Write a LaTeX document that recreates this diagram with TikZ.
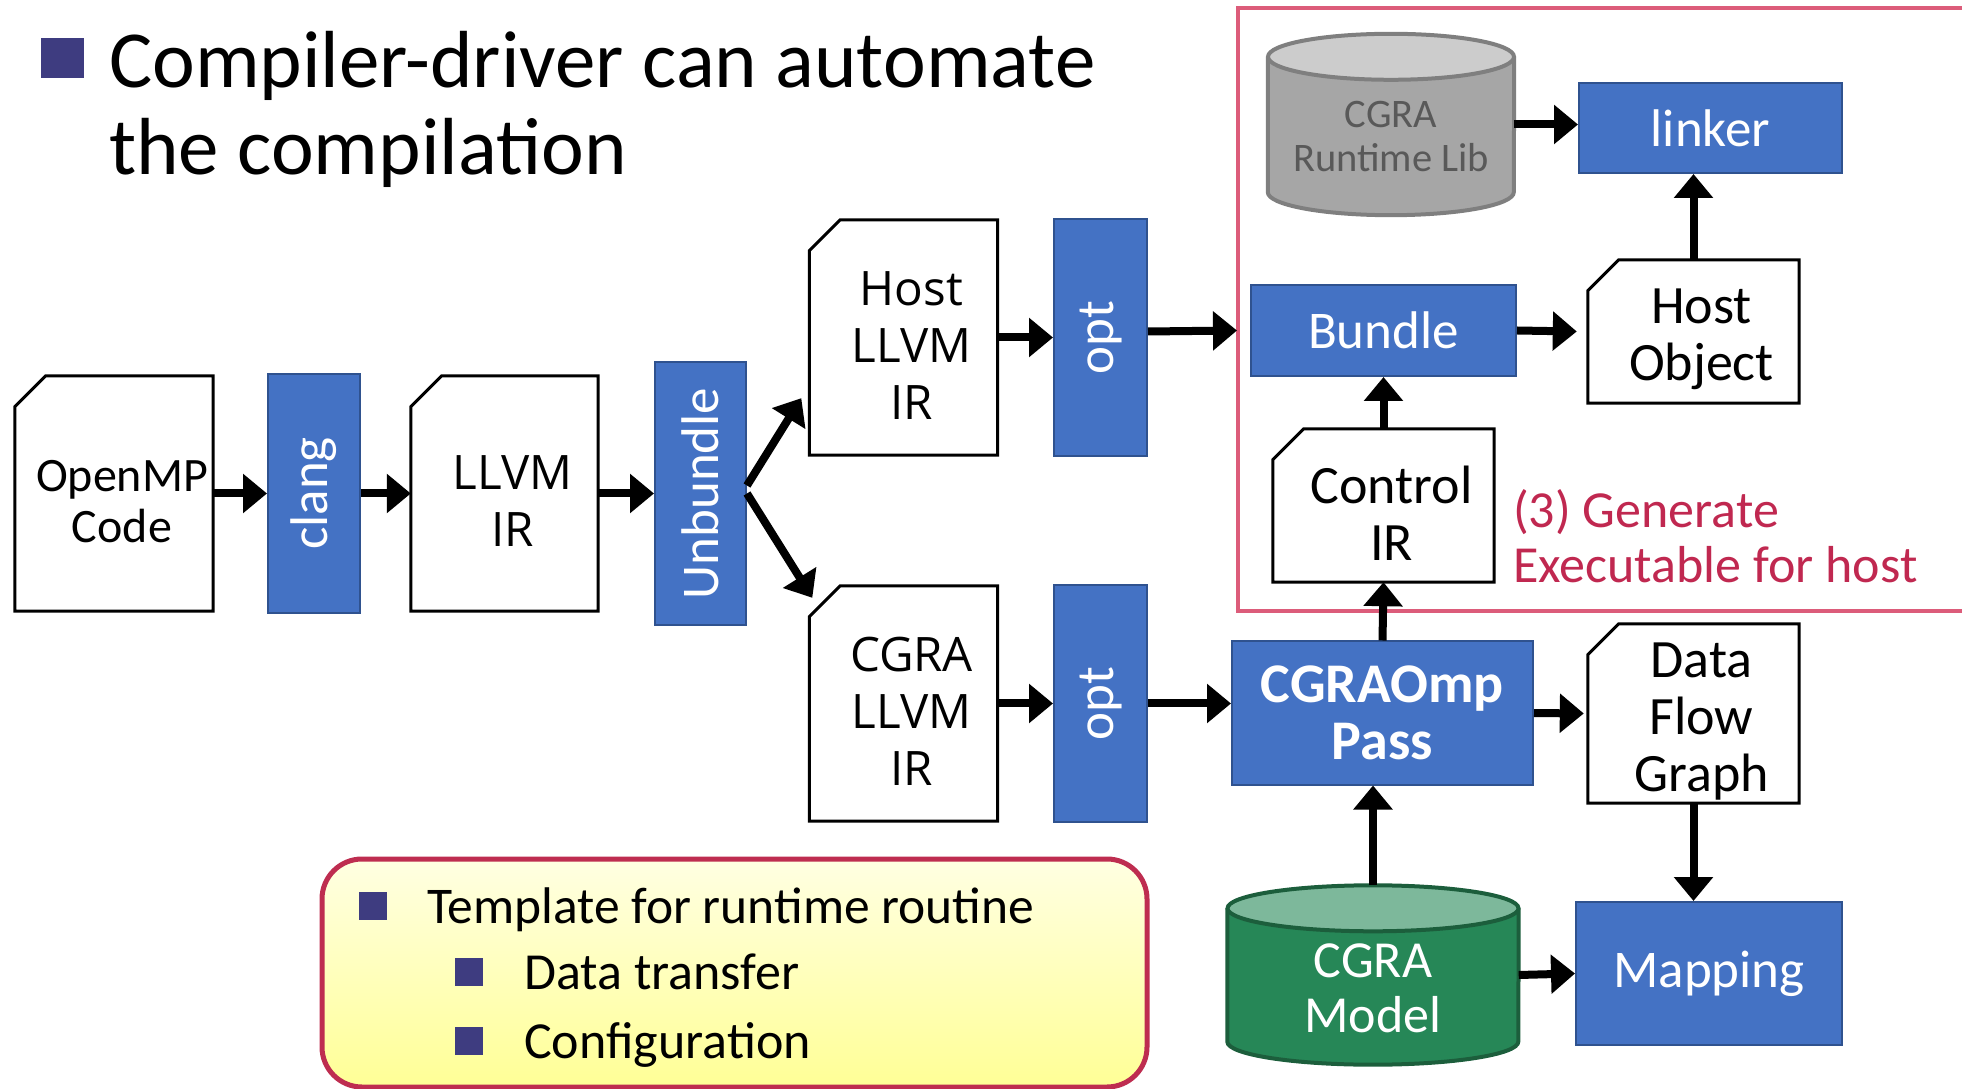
\documentclass[tikz,border=0pt]{standalone}
\usepackage{fontspec}
\setmainfont{Carlito}
\newfontfamily\widefont{Open Sans}
\usetikzlibrary{arrows.meta}
\definecolor{passblue}{RGB}{68,114,196}
\definecolor{passedge}{RGB}{47,82,143}
\definecolor{framepink}{RGB}{220,92,122}
\definecolor{notecrimson}{RGB}{192,40,80}
\definecolor{bulletpurple}{RGB}{62,60,128}
\definecolor{libbody}{RGB}{166,166,166}
\definecolor{libtop}{RGB}{204,204,204}
\definecolor{libedge}{RGB}{127,127,127}
\definecolor{libtext}{RGB}{89,89,89}
\definecolor{modelbody}{RGB}{38,135,87}
\definecolor{modeltop}{RGB}{125,184,155}
\definecolor{modeledge}{RGB}{28,94,60}
\definecolor{noteedge}{RGB}{190,45,80}
\definecolor{notetop}{RGB}{255,255,226}
\definecolor{notebottom}{RGB}{255,255,150}
\tikzset{
  passbox/.style={fill=passblue, draw=passedge, line width=2pt, text=white, inner sep=0pt,
    align=center, font=\fontsize{53}{57}\selectfont},
  docbox/.style={inner sep=0pt},
  doctext/.style={align=center, inner sep=0pt, xshift=8pt, yshift=-8pt, font=\fontsize{54}{57}\selectfont},
  irtext/.style={doctext, font=\widefont\fontsize{47.5}{57}\selectfont},
  cylbox/.style={inner sep=0pt},
  sqbullet/.style={fill=bulletpurple, inner sep=0pt, minimum size=28pt},
  flow/.style={line width=8pt, -{Triangle[length=24pt,width=38pt]}},
}

\begin{document}
\begin{tikzpicture}[x=1pt,y=1pt]
    \useasboundingbox (0,0) rectangle (1962,1088);
    % title
    \node[sqbullet, minimum width=43pt, minimum height=40pt] (titlebullet) at (62.5,1030) {};
    \node[anchor=base west, inner sep=0pt, font=\fontsize{81}{92}\selectfont] (title1) at (109,1000) {Compiler-driver can automate};
    \node[anchor=base west, inner sep=0pt, font=\fontsize{81}{92}\selectfont] (title2) at (109,913) {the compilation};
    % host frame
    \draw[framepink, line width=4.5pt] (1238,477) rectangle (1990,1080);
    % front end
    \node[docbox, minimum width=198pt, minimum height=235pt,
        label={[doctext, font=\fontsize{48}{51}\selectfont]center:{OpenMP\\Code}}] (omp) at (114,594.5) {};
    \node[passbox, minimum width=92pt, minimum height=239pt] (clang) at (314,594.5) {\rotatebox{90}{clang}};
    \node[docbox, minimum width=187pt, minimum height=235pt,
        label={[irtext]center:{LLVM\\IR}}] (llvm) at (504.5,594.5) {};
    \node[passbox, minimum width=91pt, minimum height=263pt] (unbundle) at (700.5,594.5) {\rotatebox{90}{Unbundle}};
    % host path
    \node[docbox, minimum width=188pt, minimum height=235pt,
        label={[irtext]center:{Host\\LLVM\\IR}}] (hostir) at (903.5,750.5) {};
    \node[passbox, minimum width=93pt, minimum height=237pt] (opt1) at (1100.5,750.5) {\rotatebox{90}{opt}};
    % cgra path
    \node[docbox, minimum width=188pt, minimum height=235pt,
        label={[irtext]center:{CGRA\\LLVM\\IR}}] (cgrair) at (903.5,384.5) {};
    \node[passbox, minimum width=93pt, minimum height=237pt] (opt2) at (1100.5,384.5) {\rotatebox{90}{opt}};
    \node[passbox, minimum width=301pt, minimum height=143pt, font=\fontsize{56}{57}\selectfont\bfseries] (cgraomp) at (1382.5,375) {CGRAOmp\\Pass};
    \node[docbox, minimum width=211pt, minimum height=179pt,
        label={[doctext]center:{Data\\Flow\\Graph}}] (dfg) at (1693.5,374.5) {};
    \node[passbox, minimum width=266pt, minimum height=143pt] (mapping) at (1709,114.5) {Mapping};
    % executable for host
    \node[docbox, minimum width=221pt, minimum height=153pt,
        label={[doctext]center:{Control\\IR}}] (ctrl) at (1383.5,582.5) {};
    \node[passbox, minimum width=265pt, minimum height=91pt] (bundle) at (1383.5,757.5) {Bundle};
    \node[docbox, minimum width=211pt, minimum height=143pt,
        label={[doctext]center:{Host\\Object}}] (hostobj) at (1693.5,756.5) {};
    \node[passbox, minimum width=263pt, minimum height=90pt] (linker) at (1710.5,960) {linker};
    \node[anchor=west, align=left, inner sep=0pt, text=notecrimson, font=\fontsize{52}{55}\selectfont] (gennote) at (1513,552) {(3) Generate\\Executable for host};
    % document outlines
    \foreach \n in {omp,llvm,hostir,cgrair,ctrl,hostobj,dfg}
        \draw[line width=3pt] (\n.south west) -- ([yshift=-31pt]\n.north west) -- ([xshift=31pt]\n.north west)
            -- (\n.north east) -- (\n.south east) -- cycle;
    % databases
    \node[cylbox, minimum width=246pt, minimum height=181pt] (rlib) at (1391,963.5) {};
    \node[cylbox, minimum width=291pt, minimum height=179pt] (model) at (1373,113) {};
    \foreach \n/\rx/\body/\top/\edge in {rlib/123/libbody/libtop/libedge,model/145.5/modelbody/modeltop/modeledge}{
        \draw[fill=\body, draw=\edge, line width=4pt] ([yshift=-23pt]\n.north west) -- ([yshift=23pt]\n.south west)
            arc[start angle=180, end angle=360, x radius=\rx pt, y radius=23pt] -- ([yshift=-23pt]\n.north east);
        \draw[fill=\top, draw=\edge, line width=4pt] ([yshift=-23pt]\n.north) ellipse[x radius=\rx pt, y radius=23pt];
    }
    \node[inner sep=0pt, align=center, text=libtext, font=\fontsize{40.5}{44}\selectfont] (rlibtext) at ([yshift=-12pt]rlib.center) {CGRA\\Runtime Lib};
    \node[inner sep=0pt, align=center, text=white, font=\fontsize{52}{55}\selectfont] (modeltext) at ([yshift=-13pt]model.center) {CGRA\\Model};
    % arrows
    \draw[flow] (omp.east) -- (clang.west);
    \draw[flow] (clang.east) -- (llvm.west);
    \draw[flow] (llvm.east) -- (unbundle.west);
    \draw[flow] ([yshift=8pt]unbundle.east) -- ([xshift=-8pt,yshift=57pt]hostir.south west);
    \draw[flow] (unbundle.east) -- ([xshift=3pt,yshift=-12pt]cgrair.north west);
    \draw[flow] (hostir.east) -- (opt1.west);
    \draw[flow] ([yshift=6pt]opt1.east) -- ([xshift=-13pt]bundle.west);
    \draw[flow] (cgrair.east) -- (opt2.west);
    \draw[flow] (opt2.east) -- (opt2.east -| cgraomp.west);
    \draw[flow] (cgraomp.east) -- ([xshift=-4pt]dfg.west);
    \draw[flow] (cgraomp.north) -- (ctrl.south);
    \draw[flow] (ctrl.north) -- (bundle.south);
    \draw[flow] (bundle.east) -- ([xshift=-11pt]hostobj.west);
    \draw[flow] (hostobj.north) -- (hostobj.north |- linker.south);
    \draw[flow] (rlib.east) -- (rlib.east -| linker.west);
    \draw[flow] (model.north) -- (model.north |- cgraomp.south);
    \draw[flow] (dfg.south) -- (dfg.south |- mapping.north);
    \draw[flow] (model.east) -- (mapping.west);
    % runtime template note
    \node[draw=noteedge, line width=5pt, rounded corners=40pt, top color=notetop, bottom color=notebottom,
        minimum width=825pt, minimum height=228pt] (note) at (734.5,115) {};
    \node[sqbullet] (b1) at (373,182) {};
    \node[anchor=base west, inner sep=0pt, font=\fontsize{51.5}{55}\selectfont] (t1) at (427,165) {Template for runtime routine};
    \node[sqbullet] (b2) at (469,116) {};
    \node[anchor=base west, inner sep=0pt, font=\fontsize{52}{55}\selectfont] (t2) at (524,99) {Data transfer};
    \node[sqbullet] (b3) at (469,47) {};
    \node[anchor=base west, inner sep=0pt, font=\fontsize{52}{55}\selectfont] (t3) at (524,30) {Configuration};
\end{tikzpicture}
\end{document}
